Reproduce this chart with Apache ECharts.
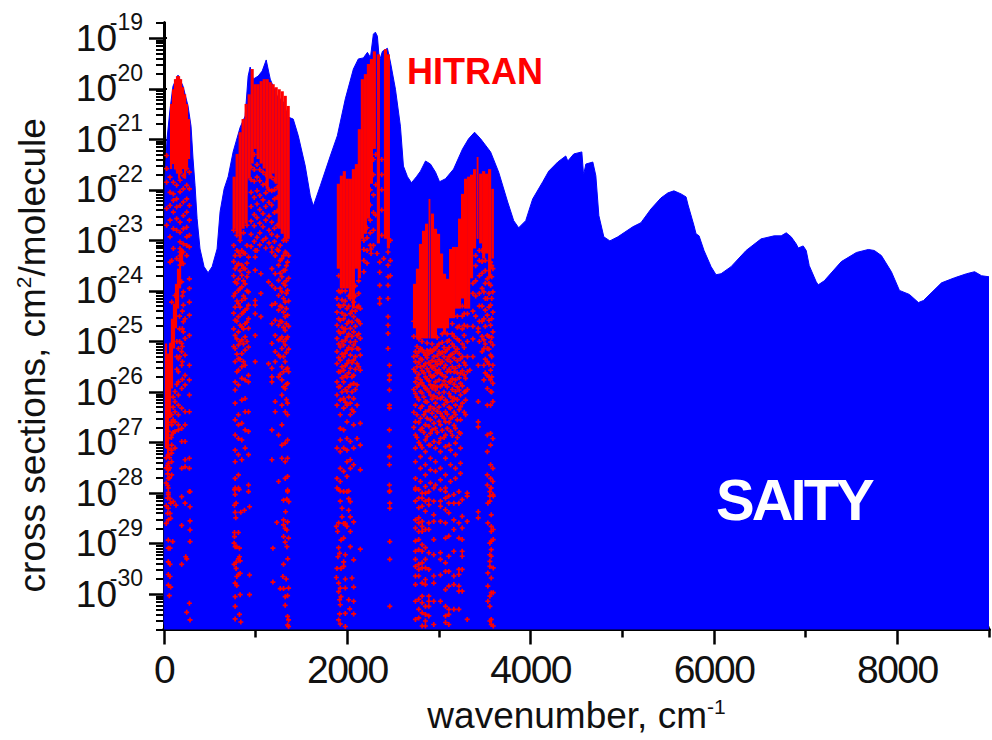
<!DOCTYPE html>
<html>
<head>
<meta charset="utf-8">
<script src="https://cdn.jsdelivr.net/npm/echarts@6/dist/echarts.min.js"></script>
<style>
html,body{margin:0;padding:0;background:#fff}
#c{width:992px;height:740px}
#c svg text[style*="39px"]{letter-spacing:-1.5px}
#c svg text[style*="58px"]{letter-spacing:-3px}
</style>
</head>
<body>
<div id="c"></div>
<script>
// SAITY envelope: wavenumber (cm-1) and log10(cross section)
var saityWn = [1,5,11,33,66,98,153,208,262,295,317,339,361,393,437,481,525,579,612,656,700,754,831,885,918,940,973,1027,1071,1115,1159,1235,1301,1355,1410,1465,1541,1596,1629,1705,1814,1891,1978,2066,2120,2175,2219,2252,2284,2306,2328,2350,2383,2437,2470,2525,2579,2612,2656,2700,2754,2798,2853,2907,2962,3006,3071,3159,3257,3323,3388,3454,3563,3651,3749,3815,3869,3946,4022,4132,4197,4295,4383,4405,4470,4558,4574,4580,4602,4678,4711,4744,4798,4864,4951,5115,5203,5312,5421,5498,5563,5640,5695,5717,5782,5804,5837,5891,5968,6022,6077,6186,6350,6514,6656,6733,6788,6842,6897,6919,6973,7006,7039,7115,7137,7203,7389,7553,7684,7749,7826,7935,8023,8132,8230,8285,8482,8624,8755,8843,8919,9000];
var saityLog = [-30.6,-23.5,-21.78,-20.99,-20.40,-19.95,-19.73,-19.95,-20.34,-20.74,-21.39,-21.92,-22.57,-23.17,-23.52,-23.64,-23.52,-23.17,-22.43,-21.98,-21.74,-21.25,-20.76,-20.54,-19.75,-19.57,-19.81,-19.75,-19.65,-19.43,-19.81,-20.14,-20.26,-20.56,-20.60,-20.93,-21.53,-22.12,-22.32,-21.92,-21.33,-20.93,-20.20,-19.61,-19.41,-19.39,-19.28,-19.38,-18.92,-18.88,-18.96,-19.45,-19.26,-19.20,-19.47,-20.01,-20.74,-21.53,-21.74,-21.86,-21.74,-21.63,-21.43,-21.49,-21.65,-21.84,-21.78,-21.59,-21.19,-20.99,-20.86,-20.99,-21.25,-21.65,-22.24,-22.61,-22.75,-22.61,-22.18,-21.84,-21.63,-21.45,-21.33,-21.43,-21.29,-21.25,-21.63,-21.68,-21.49,-21.45,-21.72,-22.51,-22.93,-23.01,-22.93,-22.73,-22.65,-22.38,-22.16,-22.06,-22.02,-22.08,-22.14,-22.30,-22.71,-22.87,-22.91,-23.20,-23.52,-23.68,-23.66,-23.52,-23.20,-22.97,-22.91,-22.91,-22.85,-22.93,-23.07,-23.15,-23.11,-23.20,-23.50,-23.82,-23.88,-23.80,-23.42,-23.24,-23.18,-23.20,-23.30,-23.62,-23.99,-24.07,-24.23,-24.19,-23.84,-23.74,-23.66,-23.62,-23.70,-23.72];

// HITRAN, solid parts of the cloud: [centre wavenumber, half width, top log10, bottom log10]
var hitranDense = [
[77,12,-20.30,-21.59],[98,12,-20.01,-21.49],[120,12,-19.81,-21.59],[142,12,-19.75,-21.68],[164,12,-19.75,-21.78],[186,12,-19.81,-21.68],[208,12,-19.97,-21.59],[230,12,-20.11,-21.78],[251,12,-20.30,-21.59],[273,12,-20.60,-21.39],
[22,12,-25.04,-27.11],[44,12,-25.24,-27.31],[66,12,-25.04,-26.52],[87,12,-24.55,-25.93],[109,12,-24.25,-25.14],[131,12,-23.86,-24.74],[153,12,-23.56,-24.35],[175,12,-23.26,-23.95],[197,12,-23.17,-23.46],
[765,17,-21.74,-22.77],[798,17,-21.29,-22.87],[831,17,-20.86,-22.97],[863,17,-20.60,-22.77],[896,17,-20.30,-22.67],[929,17,-20.11,-21.78],[962,17,-19.61,-21.48],[995,17,-19.91,-21.19],[1027,17,-19.91,-21.39],[1060,17,-19.85,-21.48],[1093,17,-19.81,-21.58],[1126,17,-19.81,-21.98],[1159,17,-19.87,-21.78],[1191,17,-19.91,-21.68],[1224,17,-19.97,-21.88],[1257,17,-20.01,-22.77],[1290,17,-20.05,-22.87],[1323,17,-20.14,-22.97],[1355,17,-20.34,-22.97],
[1902,17,-21.88,-23.56],[1935,17,-21.72,-23.95],[1967,17,-21.63,-23.95],[2000,17,-21.78,-23.95],[2033,17,-21.78,-24.15],[2066,17,-21.59,-24.35],[2099,17,-21.49,-23.56],[2131,17,-20.80,-23.75],[2164,17,-19.81,-22.97],[2197,17,-19.71,-22.87],[2230,17,-19.51,-22.57],[2263,17,-19.41,-21.88],[2295,17,-19.26,-21.19],[2339,17,-19.32,-23.06],[2416,17,-19.22,-22.97],[2448,17,-19.32,-23.16],
[2733,17,-23.86,-24.74],[2765,17,-23.56,-24.94],[2798,17,-23.07,-24.94],[2831,17,-22.81,-24.94],[2864,17,-22.67,-24.94],[2896,10,-22.18,-24.94],[2929,17,-22.47,-24.94],[2962,17,-22.77,-24.94],[2995,17,-22.87,-24.74],[3028,17,-23.26,-24.74],[3060,17,-23.66,-24.84],[3093,17,-23.76,-24.74],[3126,17,-23.17,-24.54],[3159,17,-23.13,-24.54],[3192,17,-23.13,-24.35],[3224,17,-22.57,-24.35],
[3257,17,-22.08,-24.15],[3290,17,-21.78,-24.35],[3323,17,-21.74,-24.35],[3355,17,-21.70,-23.75],[3388,17,-21.59,-23.16],[3421,10,-21.35,-22.97],[3454,17,-21.68,-23.06],[3487,17,-21.63,-23.36],[3519,17,-21.68,-23.26],[3552,17,-21.59,-23.75],[3585,14,-21.98,-23.36]
];

// HITRAN, individual lines read by eye: [wavenumber, log10, log10, ...]
var hitranLines = [
// first band
[29,-21.32,-21.58,-21.85,-22.37,-22.70],[66,-21.75,-22.05,-22.31,-22.60,-22.93,-23.43],[102,-21.85,-22.08,-22.21,-22.44,-22.77,-23.16],[138,-21.58,-21.91,-22.18,-22.34,-22.57,-22.80,-23.36],[175,-21.65,-21.81,-22.04,-22.31,-22.64,-22.84,-23.03,-23.16,-23.23,-23.30,-23.40,-23.49],[211,-21.45,-21.72,-21.98,-22.24,-22.51,-22.77,-23.07,-23.23,-23.46],[248,-21.58,-21.91,-22.18,-22.44,-22.74,-22.93,-23.10,-23.30],[277,-21.65,-21.98,-22.31,-22.60,-22.90,-23.13],
[47,-26.78,-26.92,-27.11,-27.24,-27.41,-27.54,-27.71,-27.90,-28.03],[84,-23.40,-24.22,-25.04,-26.45,-26.65,-26.85,-27.05,-27.21,-27.38,-27.64],[120,-24.09,-25.99,-26.19,-26.39,-26.59,-26.78,-27.11],[157,-25.14,-25.34,-25.60,-25.80,-26.06,-26.26,-26.45,-26.65,-26.75],[193,-23.82,-25.04,-25.20,-25.47,-25.93,-26.32,-26.72,-26.98,-27.51],[230,-24.55,-24.94,-25.27,-25.67,-25.86,-26.39,-26.65,-26.98,-27.34,-27.48],[277,-23.76,-23.95,-24.22,-24.48,-24.88,-25.47,-25.76,-26.06,-26.39,-27.31,-27.51,-27.97],[211,-24.02,-24.28,-24.61,-24.81],
[47,-27.99,-28.30,-28.53,-28.93,-29.09,-29.36,-29.61,-29.82],[66,-28.11,-28.40,-29.09,-29.41,-29.65],[73,-28.20,-28.50,-29.86],[58,-30.03],[95,-28.96],[102,-28.17],[131,-28.24],[193,-28.07,-28.64,-29.41],[230,-28.20],[237,-29.26],[248,-29.30,-30.36],[277,-30.18],[284,-27.97,-28.27,-28.55,-28.73,-28.96,-30.51],
[60,-27.3,-27.5,-27.7],[40,-27.45,-27.62,-27.85,-28.1,-28.4],[100,-26.1,-26.3,-26.55,-26.8],[140,-25.0,-25.3,-25.55,-25.85],[170,-24.5,-24.75,-25.0,-25.3],[80,-26.6,-26.9,-27.15],[25,-27.3,-27.5,-27.8,-28.25,-28.6],[200,-24.1,-24.4,-24.75,-25.1,-25.4,-25.75],
// second band
[776,-23.30,-23.56,-23.82,-24.05,-24.32,-24.58,-24.88,-25.14,-25.40,-25.80,-25.96,-26.22,-26.55,-26.85,-27.15,-27.38,-27.71,-27.90],[812,-23.23,-23.46,-23.76,-23.99,-24.25,-24.51,-24.81,-25.07,-25.34,-25.57,-25.86,-26.45,-26.65,-26.92,-27.24,-27.64,-27.90],[849,-23.20,-23.49,-23.69,-23.92,-24.19,-24.45,-24.71,-24.97,-25.24,-25.50,-25.73,-26.16,-26.62,-26.95,-27.34],[885,-23.26,-23.56,-23.86,-24.15,-24.38,-24.65,-24.91,-25.17,-25.47,-25.76,-26.13,-26.39,-26.75,-27.11],[922,-23.33,-23.63,-24.02,-24.28,-24.55,-24.74,-25.11,-25.67,-25.80,-26.39,-26.78,-27.24,-27.84],[995,-23.20,-23.33,-23.59,-24.19,-24.28,-24.45,-24.88,-25.40],[1057,-23.66,-24.05,-24.51],[1140,-23.82,-25.44],
[1177,-23.23,-23.56,-23.89,-24.28,-24.65,-25.04,-25.53,-25.70,-25.80,-26.75,-27.34],[1213,-23.30,-23.66,-23.95,-24.25,-24.58,-24.88,-25.20,-25.40,-26.19,-26.39],[1250,-23.20,-23.49,-23.79,-24.09,-24.38,-24.68,-24.97,-25.27,-25.70,-26.85,-27.77],[1286,-23.36,-23.72,-24.02,-24.32,-24.61,-24.91,-25.14,-25.50,-25.76,-26.06,-26.26,-26.65,-27.05,-27.31],[1322,-23.23,-23.59,-23.89,-24.22,-24.51,-24.78,-25.07,-25.40,-25.93,-26.39,-27.01,-27.38,-27.71],[1348,-23.43,-23.99,-24.48,-24.91,-25.53,-25.83,-26.22,-26.45,-26.95,-27.31,-27.67,-27.97],
[769,-27.93,-28.24,-28.78,-28.86],[765,-28.99,-29.41],[776,-28.03,-28.38,-29.06,-29.78,-30.05,-30.24,-30.49],[783,-28.49],[787,-28.20,-29.37,-29.49],[794,-29.06,-29.65,-29.83],[812,-28.78,-29.30,-29.61],[820,-27.93],[823,-29.09,-29.26,-30.40],[831,-29.34,-29.59,-30.01],[838,-28.38,-30.55],[878,-28.34],[922,-27.97],[933,-28.27,-29.62,-30.01],
[1188,-29.09,-29.76],[1231,-28.58],[1268,-29.89],[1297,-29.65],[1304,-28.14,-28.53,-28.63,-28.86,-29.41,-29.89],[1322,-28.70,-28.97,-30.05,-30.22],[1326,-28.37],[1333,-29.70],[1341,-28.12,-28.73,-29.06],[1348,-27.94,-28.57,-30.03,-30.44,-30.61],[1350,-29.30],[1359,-28.89,-29.88,-30.51,-30.64],[1362,-28.17],
[950,-21.55,-21.8,-22.05,-22.33,-22.62,-22.88,-23.12],[985,-21.3,-21.6,-21.83,-22.15,-22.49,-22.71,-23.02],[1015,-21.5,-21.75,-22.02,-22.28,-22.55,-22.94,-23.2],[1045,-21.6,-21.82,-22.11,-22.39,-22.66,-22.85,-23.09],[1080,-21.65,-21.9,-22.2,-22.47,-22.73,-23.0],[1110,-21.7,-21.88,-22.06,-22.33,-22.6,-22.96,-23.15],[1145,-22.0,-22.25,-22.52,-22.8,-23.05],[1175,-21.75,-22.02,-22.3,-22.64,-22.88,-23.14],[1205,-21.8,-22.0,-22.18,-22.45,-22.76,-23.02],[1235,-21.95,-22.15,-22.42,-22.7,-22.92,-23.18],
[760,-22.8,-23.1,-23.42,-23.7,-24.1,-24.44,-24.75,-25.1],[795,-22.9,-23.2,-23.5,-23.85,-24.2,-24.6,-24.95,-25.25,-25.6],[830,-23.0,-23.3,-23.6,-23.95,-24.32,-24.68,-25.0,-25.35],[867,-22.85,-23.25,-23.55,-23.8,-24.1,-24.42,-24.75,-25.05,-25.4],[905,-22.7,-23.1,-23.45,-23.72,-24.0,-24.35,-24.62,-25.0],
[1268,-23.1,-23.4,-23.65,-23.95,-24.3,-24.6,-24.95,-25.3,-25.65],[1304,-23.0,-23.3,-23.6,-23.85,-24.15,-24.42,-24.72,-25.0,-25.3,-25.6,-25.9],[1335,-23.0,-23.25,-23.5,-23.8,-24.05,-24.35,-24.65,-24.95,-25.22,-25.55,-25.85,-26.15],[1360,-23.3,-23.75,-24.2,-24.7,-25.15,-25.6],
// third band
[1887,-24.15,-24.42,-24.68,-24.94,-25.20,-25.44,-25.80,-26.06,-26.26,-27.11,-27.71,-27.90],[1923,-24.02,-24.32,-24.58,-24.84,-25.11,-25.37,-25.60,-25.89,-26.16,-26.45,-26.72,-26.95,-27.18,-27.51,-27.77],[1960,-24.28,-24.55,-24.81,-25.07,-25.30,-25.57,-25.80,-26.13,-26.32,-26.75,-27.11,-27.57],[1996,-24.35,-24.65,-24.91,-25.17,-25.44,-25.70,-25.99,-26.26,-26.59,-26.92,-27.15,-27.38,-27.67,-27.97],[2033,-24.15,-24.45,-24.74,-25.01,-25.27,-25.53,-25.86,-26.22,-26.45,-26.98,-27.34,-27.51],[2069,-24.22,-24.51,-24.81,-25.07,-25.37,-25.67,-25.83,-26.13,-26.39,-26.65,-27.11,-27.44],[2106,-24.32,-24.58,-24.88,-25.14,-25.44,-25.86,-26.26,-26.92],[2142,-24.35,-24.65,-24.94,-25.27,-25.57,-26.62,-27.05,-27.54],
[2259,-23.17,-23.26],[2324,-23.26],[2353,-23.43,-23.63,-23.89,-24.15,-24.25],[2397,-23.36],[2444,-23.23,-23.49,-23.72,-23.89,-24.15,-24.51,-24.68,-24.84,-25.14],[2459,-25.47,-25.67,-25.76,-25.96,-26.26,-26.32,-26.75,-27.08,-27.28,-27.44,-27.84,-27.97],
[1880,-28.66,-29.67],[1887,-29.49],[1894,-28.76],[1898,-29.26],[1905,-27.93,-28.59,-29.08,-29.78,-29.95,-30.51],[1916,-29.19,-30.11,-30.39],[1923,-27.96,-28.16,-29.88,-30.21,-30.59],[1931,-28.93,-29.49,-30.05],[1942,-28.30,-28.47],[1960,-27.97,-28.60,-28.89,-29.36,-29.45],[1978,-28.60,-29.22,-29.70,-29.88,-30.38,-30.64],[1996,-28.66],[2015,-27.96,-28.11,-28.34,-30.11],[2026,-30.29],[2033,-28.17,-28.47,-28.76,-29.06],[2051,-29.68],[2069,-28.57,-29.32,-29.86,-30.14,-30.39],[2142,-29.11],[2463,-27.96,-28.20,-28.30,-28.96,-29.31,-30.24],
[2180,-23.0,-23.18,-23.4,-23.62],[2215,-22.75,-22.95,-23.2,-23.45],[2250,-22.0,-22.3,-22.6,-22.85,-23.1],[2285,-21.4,-21.7,-22.1,-22.45,-22.8,-23.1],[2310,-21.3,-21.9,-22.5],[2375,-21.4,-21.7,-22.0,-22.4,-22.9],[2470,-23.0,-23.4,-23.7],
[1905,-23.7,-24.0,-24.28,-24.55,-24.8,-25.05,-25.32,-25.6,-25.9],[1942,-24.0,-24.18,-24.44,-24.72,-25.0,-25.25,-25.5,-25.72,-26.0],[1978,-24.0,-24.2,-24.48,-24.75,-24.98,-25.23,-25.48,-25.68,-25.95,-26.2],[2015,-24.1,-24.3,-24.6,-24.85,-25.12,-25.38,-25.62,-25.9,-26.1],[2051,-24.4,-24.62,-24.9,-25.15,-25.42,-25.7,-26.0,-26.35],[2088,-23.9,-24.1,-24.4,-24.7,-25.0,-25.3,-25.55,-25.95],[2124,-23.8,-24.05,-24.3,-24.6,-24.85,-25.15,-25.5],
// fourth band
[2743,-25.20,-25.40,-25.60,-25.80,-26.03,-26.26,-26.59,-26.85,-27.11,-27.38,-27.71,-27.90],[2798,-25.14,-25.34,-25.50,-25.76,-25.99,-26.32,-26.52,-26.75,-27.05,-27.28,-27.51,-27.77],[2852,-25.27,-25.44,-25.70,-25.93,-26.19,-26.39,-26.65,-26.95,-27.18,-27.44,-27.64,-27.87],[2907,-25.17,-25.47,-25.67,-25.86,-26.06,-26.29,-26.55,-26.82,-27.05,-27.31,-27.54,-27.80],[2962,-25.14,-25.40,-25.57,-25.80,-25.96,-26.22,-26.49,-26.72,-27.11,-27.38,-27.57,-27.84],[3016,-25.24,-25.44,-25.63,-25.89,-26.13,-26.42,-26.65,-26.92,-27.18,-27.51,-27.74],[3071,-25.20,-25.47,-25.70,-25.86,-26.16,-26.39,-26.59,-26.85,-27.08,-27.31,-27.64,-27.90],[3126,-25.27,-25.40,-25.60,-25.80,-26.09,-26.32,-26.52,-26.78,-27.15,-27.44,-27.77],[3180,-25.20,-25.53,-25.76,-25.99,-26.26,-26.45,-26.72,-27.01,-27.24,-27.51,-27.71],[3235,-25.34,-25.63,-25.83,-26.06,-26.29,-26.55,-26.82,-27.11,-27.41,-27.61],[3290,-25.47,-25.73,-25.99,-26.16,-26.45],[3337,-25.57],
[3428,-24.74,-24.81,-25.47,-26.19,-26.59,-26.69],[3490,-24.02,-24.55,-24.97,-25.14,-25.47,-25.76],[3527,-23.76,-24.15,-24.48,-24.88,-25.14,-25.40,-25.67,-25.93,-26.26,-26.85,-27.18,-27.64,-27.84],[3563,-23.43,-23.89,-24.28,-24.68,-25.01,-25.27,-25.57,-25.76,-25.99,-26.26,-26.82,-27.05,-27.44,-27.71,-27.90],[3588,-23.56,-24.02,-24.42,-24.81,-25.07,-25.47,-25.83,-26.19,-26.92,-27.51,-27.77,-28.03],
[2743,-27.93,-28.16,-28.53,-28.69,-28.95,-29.15,-29.31,-29.45,-29.64,-29.81,-30.14,-30.50],[2779,-27.93,-28.10,-28.29,-28.49,-28.59,-28.76,-28.92,-29.12,-29.41,-29.51,-29.64,-30.10,-30.30,-30.47],[2816,-28.00,-28.10,-28.26,-28.56,-28.66,-28.76,-29.02,-29.15,-29.38,-29.48,-29.78,-30.04,-30.17,-30.37,-30.63],[2852,-28.00,-28.16,-28.36,-28.72,-29.08,-29.31,-29.48,-29.71,-29.81,-30.24,-30.40,-30.53,-30.63],[2889,-27.97,-28.13,-28.23,-28.59,-28.72,-29.18,-29.51,-30.04,-30.14,-30.24,-30.43],[2943,-27.90,-28.16,-28.43,-28.56,-28.92,-29.22,-29.64,-29.78,-30.14,-30.60],[3016,-27.93,-28.16,-28.26,-28.56,-29.18,-29.31,-29.62,-30.14],[3071,-27.97,-28.10,-28.33,-28.59,-28.89,-29.38,-29.55,-29.91,-30.24,-30.43,-30.56],[3107,-28.06,-28.20,-28.39,-28.85,-29.25,-29.55,-29.84,-30.30,-30.40,-30.60],[3162,-28.03,-28.20,-28.53,-28.72,-29.15,-29.64,-29.81,-30.30],[3217,-27.97,-28.20,-28.59,-28.89,-29.51,-29.61,-29.84,-29.94,-30.30],[3253,-28.13,-28.46,-28.69,-28.92,-29.15,-29.25,-29.51,-29.94],[3308,-28.00,-28.06,-28.56,-30.50],[3428,-28.37,-28.49],[3533,-28.20,-28.59,-29.58,-29.84,-30.14],[3555,-27.97,-28.06,-28.16,-28.99,-29.22,-29.35,-29.45,-30.04,-30.24,-30.53],[3570,-27.90,-28.43,-28.66,-28.76,-28.95,-29.12,-29.25,-29.68,-29.97,-30.50,-30.60],[3592,-28.06,-28.72,-28.92,-29.48,-29.97,-30.63],
[2725,-24.6,-24.9,-25.3,-25.55,-25.95,-26.4,-26.7],[2760,-25.1,-25.28,-25.5,-25.72,-25.9,-26.1,-26.45,-26.9],[2780,-24.95,-25.2,-25.42,-25.65,-25.85,-26.15,-26.6,-27.0],[2815,-25.0,-25.16,-25.36,-25.58,-25.82,-26.02,-26.28,-26.72,-27.1],[2835,-25.22,-25.48,-25.62,-25.88,-26.1,-26.45,-26.8],[2870,-25.03,-25.18,-25.32,-25.54,-25.74,-25.94,-26.2,-26.52,-26.88],[2890,-25.24,-25.42,-25.6,-25.78,-26.0,-26.36,-26.68,-27.05],[2925,-25.05,-25.2,-25.38,-25.52,-25.7,-25.92,-26.14,-26.42,-26.75],[2945,-25.15,-25.3,-25.5,-25.68,-25.88,-26.08,-26.33,-26.62,-26.98],[2980,-24.92,-25.1,-25.28,-25.46,-25.62,-25.9,-26.12,-26.38,-26.8],[3000,-25.05,-25.2,-25.36,-25.56,-25.76,-26.02,-26.3,-26.58,-27.0],[3035,-24.85,-25.02,-25.22,-25.4,-25.66,-25.86,-26.1,-26.48,-26.76],[3055,-25.12,-25.3,-25.52,-25.78,-26.0,-26.25,-26.52,-26.9],[3090,-24.85,-25.0,-25.16,-25.36,-25.6,-25.9,-26.2,-26.44,-26.72],[3110,-24.98,-25.12,-25.3,-25.55,-25.8,-26.03,-26.3,-26.6,-27.05],[3145,-24.65,-24.85,-25.05,-25.25,-25.5,-25.74,-25.95,-26.18,-26.5,-26.86],[3165,-24.9,-25.1,-25.33,-25.6,-25.85,-26.12,-26.4,-26.66],[3200,-24.5,-24.72,-24.95,-25.15,-25.38,-25.62,-25.9,-26.15,-26.55,-26.9],[3220,-24.7,-24.98,-25.24,-25.48,-25.72,-25.96,-26.35,-26.8],[3255,-24.3,-24.5,-24.75,-25.05,-25.3,-25.58,-25.88,-26.22],[3275,-24.45,-24.68,-24.88,-25.12,-25.42,-25.66,-26.0,-26.4],[3310,-24.45,-24.7,-25.0,-25.3,-25.6,-25.95],
[3370,-23.85,-24.05,-24.4,-24.7,-24.95,-25.3],[3400,-23.3,-23.5,-23.8,-24.1,-24.5],[3440,-23.2,-23.4,-23.7,-24.05,-24.3,-24.6,-25.0],[3470,-23.2,-23.42,-23.65,-23.95,-24.3,-24.6,-24.9,-25.2],[3505,-23.4,-23.6,-23.85,-24.15,-24.38,-24.7,-25.05,-25.35,-25.62],[3545,-23.85,-24.05,-24.32,-24.58,-24.9,-25.15,-25.45,-25.7],[3575,-23.5,-23.72,-24.15,-24.55,-24.92,-25.3,-25.7,-26.0]
];

var xMajorTicks = [0,2000,4000,6000,8000];
var xMinorTicks = [1000,3000,5000,7000,9000];
var yExponents = [-19,-20,-21,-22,-23,-24,-25,-26,-27,-28,-29,-30];
var yMantissas = [2,3,4,5,6,7,8,9];

var Y_MIN=2e-31,Y_MAX=2e-19,FF='"Liberation Sans",Arial,sans-serif';
var saityData = saityWn.map(function(w,i){return [w,Math.pow(10,saityLog[i])];});
var denseData = hitranDense.map(function(d){return [d[0]-d[1],d[0]+d[1],Math.pow(10,d[2]),Math.pow(10,d[3])];});
var lineData = [];
hitranLines.forEach(function(col){col.slice(1).forEach(function(l){lineData.push([col[0],Math.pow(10,l)]);});});
var yMajor = yExponents.map(function(e){return Math.pow(10,e);});
var yMinor = [];
[-19,-20,-21,-22,-23,-24,-25,-26,-27,-28,-29,-30,-31].forEach(function(e){yMantissas.forEach(function(m){var v=m*Math.pow(10,e);if(v>=Y_MIN&&v<=Y_MAX)yMinor.push(v);});});

function xAxis(pos,custom,len,labels){return {type:'value',min:0,max:9000,position:pos,interval:1000,
  axisLine:{show:true,lineStyle:{color:'#000',width:3}},
  axisTick:{show:true,length:len,inside:false,customValues:custom,lineStyle:{color:'#000',width:len>4?2.5:1.5}},
  axisLabel:labels?{show:true,customValues:custom,fontFamily:FF,fontSize:39,color:'#111',margin:20,hideOverlap:false,formatter:function(v){return String(v);}}:{show:false},
  splitLine:{show:false}};}
function yAxis(pos,custom,len,lab,w){return {type:'log',logBase:10,min:Y_MIN,max:Y_MAX,position:pos,
  axisLine:{show:true,lineStyle:{color:'#000',width:3}},
  axisTick:{show:len>0,length:len,customValues:custom,lineStyle:{color:'#000',width:w||2.5}},
  axisLabel:lab||{show:false},splitLine:{show:false},minorTick:{show:false}};}

var chart = echarts.init(document.getElementById('c'),null,{renderer:'svg'});
var x0 = xAxis('bottom',xMajorTicks,15,true);
x0.name='{n|wavenumber, cm}{s|-1}';x0.nameLocation='middle';x0.nameGap=64;
x0.nameTextStyle={rich:{n:{fontFamily:FF,fontSize:37,color:'#111',lineHeight:44},s:{fontFamily:FF,fontSize:21,color:'#111',lineHeight:44,padding:[0,0,18,0]}}};
var y0 = yAxis('left',yMajor,15,{show:true,customValues:yMajor,fontFamily:FF,fontSize:37,color:'#111',margin:47,hideOverlap:false,formatter:function(){return '10';}});
y0.name='{n|cross sections, cm}{s|2}{n|/molecule}';y0.nameLocation='middle';y0.nameGap=110;y0.nameRotate=90;
y0.nameTextStyle={padding:[0,58,0,0],rich:{n:{fontFamily:FF,fontSize:37,color:'#111',lineHeight:44},s:{fontFamily:FF,fontSize:21,color:'#111',lineHeight:44,padding:[0,0,18,0]}}};
var y1 = yAxis('left',yMajor,0,{show:true,customValues:yMajor,fontFamily:FF,fontSize:23,color:'#111',margin:21,hideOverlap:false,verticalAlign:'bottom',lineHeight:22,padding:[0,0,5,0],formatter:function(v){return String(Math.round(Math.log10(v)));}});

chart.setOption({
 animation:false,backgroundColor:'#fff',
 grid:{left:164,right:3,top:23,bottom:109,containLabel:false},
 xAxis:[x0,xAxis('bottom',xMinorTicks,8,false),xAxis('top',xMajorTicks,14,false),xAxis('top',xMinorTicks,3,false)],
 yAxis:[y0,y1,yAxis('left',yMinor,8,null,2),yAxis('right',yMajor,3,null,2)],
 series:[
  {name:'SAITY',type:'line',data:saityData,showSymbol:false,symbol:'none',sampling:false,lineStyle:{color:'#0000ff',width:1},areaStyle:{color:'#0000ff',opacity:1,origin:Y_MIN},z:2},
  {name:'HITRAN dense',type:'custom',data:denseData,encode:{x:[0,1],y:[2,3]},z:3,renderItem:function(p,api){
     var a=api.coord([api.value(0),api.value(2)]),b=api.coord([api.value(1),api.value(3)]);
     return {type:'rect',shape:{x:a[0],y:a[1],width:b[0]-a[0],height:b[1]-a[1]},style:{fill:'#ff0000'}};}},
  {name:'HITRAN',type:'scatter',data:lineData,symbol:'path://M1 0H2V1H3V2H2V3H1V2H0V1H1Z',symbolSize:5,itemStyle:{color:'#ff0000',opacity:1},z:4,large:false}
 ],
 graphic:[
  {type:'text',left:407,top:53,z:10,style:{text:'HITRAN',fill:'#ff0000',font:'bold 36px "Liberation Sans",Arial,sans-serif'}},
  {type:'text',left:716,top:470,z:10,style:{text:'SAITY',fill:'#ffffff',font:'bold 58px "Liberation Sans",Arial,sans-serif'}}
 ]
});
</script>
</body>
</html>
